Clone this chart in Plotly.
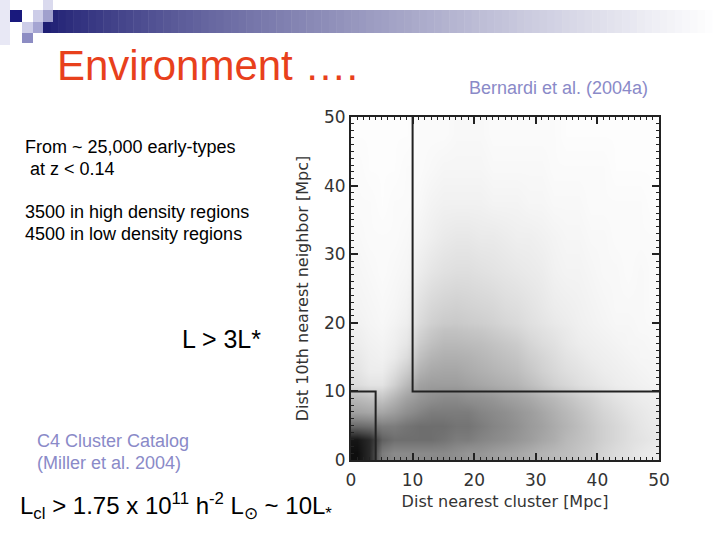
import plotly.graph_objects as go

# ---------------- data ----------------
# Bin edges (Mpc) for the density of early-type galaxies
x_edges = [0, 2, 4, 6, 8, 10, 12, 14, 16, 18, 20, 22, 24, 26, 28, 30, 32, 34, 36, 38, 40, 42, 44, 46, 48, 50]
y_edges = [0, 2, 4, 6, 8, 10, 12, 14, 16, 18, 20, 25, 30, 35, 40, 45, 50]

# Relative point density (0 = empty, 1 = saturated), one row per y bin (bottom to top)
dens_y00_02 = [0.95, 0.85, 0.55, 0.50, 0.50, 0.50, 0.50, 0.50, 0.48, 0.45, 0.45, 0.42, 0.40, 0.38, 0.35, 0.32, 0.30, 0.28, 0.25, 0.22, 0.18, 0.15, 0.13, 0.10, 0.08]
dens_y02_04 = [0.92, 0.85, 0.65, 0.60, 0.60, 0.60, 0.60, 0.58, 0.55, 0.55, 0.52, 0.50, 0.48, 0.45, 0.42, 0.38, 0.35, 0.30, 0.27, 0.24, 0.20, 0.17, 0.14, 0.12, 0.10]
dens_y04_06 = [0.62, 0.60, 0.55, 0.55, 0.58, 0.60, 0.60, 0.60, 0.58, 0.58, 0.55, 0.52, 0.50, 0.47, 0.43, 0.40, 0.36, 0.32, 0.28, 0.24, 0.20, 0.17, 0.14, 0.11, 0.09]
dens_y06_08 = [0.40, 0.38, 0.38, 0.42, 0.48, 0.52, 0.55, 0.55, 0.55, 0.55, 0.52, 0.50, 0.48, 0.45, 0.42, 0.38, 0.34, 0.30, 0.26, 0.22, 0.18, 0.15, 0.12, 0.10, 0.08]
dens_y08_10 = [0.30, 0.27, 0.25, 0.32, 0.40, 0.45, 0.48, 0.50, 0.50, 0.48, 0.47, 0.45, 0.42, 0.40, 0.37, 0.33, 0.30, 0.26, 0.22, 0.19, 0.15, 0.12, 0.10, 0.08, 0.07]
dens_y10_12 = [0.15, 0.12, 0.12, 0.20, 0.30, 0.40, 0.42, 0.42, 0.42, 0.40, 0.38, 0.36, 0.34, 0.32, 0.28, 0.24, 0.20, 0.17, 0.14, 0.12, 0.10, 0.08, 0.07, 0.06, 0.05]
dens_y12_14 = [0.12, 0.08, 0.08, 0.14, 0.22, 0.33, 0.37, 0.38, 0.38, 0.36, 0.34, 0.32, 0.30, 0.28, 0.24, 0.20, 0.17, 0.14, 0.12, 0.10, 0.08, 0.07, 0.06, 0.05, 0.04]
dens_y14_16 = [0.10, 0.07, 0.06, 0.09, 0.15, 0.27, 0.32, 0.34, 0.34, 0.33, 0.31, 0.29, 0.27, 0.25, 0.21, 0.18, 0.15, 0.12, 0.10, 0.08, 0.07, 0.06, 0.05, 0.04, 0.04]
dens_y16_18 = [0.08, 0.06, 0.05, 0.07, 0.11, 0.22, 0.27, 0.30, 0.30, 0.29, 0.28, 0.26, 0.24, 0.22, 0.18, 0.15, 0.13, 0.10, 0.08, 0.07, 0.06, 0.05, 0.04, 0.04, 0.03]
dens_y18_20 = [0.07, 0.05, 0.04, 0.06, 0.09, 0.18, 0.23, 0.26, 0.26, 0.25, 0.24, 0.22, 0.20, 0.18, 0.15, 0.13, 0.11, 0.09, 0.07, 0.06, 0.05, 0.04, 0.04, 0.03, 0.03]
dens_y20_25 = [0.05, 0.04, 0.03, 0.04, 0.06, 0.13, 0.17, 0.19, 0.20, 0.19, 0.18, 0.17, 0.15, 0.14, 0.12, 0.10, 0.08, 0.07, 0.06, 0.05, 0.04, 0.03, 0.03, 0.03, 0.02]
dens_y25_30 = [0.04, 0.03, 0.02, 0.03, 0.04, 0.08, 0.11, 0.13, 0.14, 0.14, 0.13, 0.12, 0.11, 0.10, 0.09, 0.08, 0.06, 0.05, 0.05, 0.04, 0.03, 0.03, 0.02, 0.03, 0.02]
dens_y30_35 = [0.03, 0.02, 0.02, 0.02, 0.03, 0.05, 0.07, 0.09, 0.10, 0.10, 0.09, 0.09, 0.08, 0.07, 0.07, 0.06, 0.05, 0.04, 0.04, 0.03, 0.03, 0.02, 0.02, 0.02, 0.02]
dens_y35_40 = [0.02, 0.02, 0.01, 0.02, 0.02, 0.03, 0.05, 0.06, 0.06, 0.06, 0.06, 0.05, 0.05, 0.05, 0.04, 0.04, 0.03, 0.03, 0.03, 0.02, 0.02, 0.02, 0.02, 0.02, 0.01]
dens_y40_45 = [0.02, 0.01, 0.01, 0.01, 0.02, 0.02, 0.03, 0.04, 0.04, 0.04, 0.04, 0.03, 0.03, 0.03, 0.03, 0.03, 0.02, 0.02, 0.02, 0.02, 0.02, 0.01, 0.01, 0.01, 0.01]
dens_y45_50 = [0.01, 0.01, 0.01, 0.01, 0.01, 0.02, 0.02, 0.02, 0.03, 0.03, 0.03, 0.02, 0.02, 0.02, 0.02, 0.02, 0.02, 0.01, 0.01, 0.01, 0.01, 0.01, 0.01, 0.01, 0.01]

density_rows = [dens_y00_02, dens_y02_04, dens_y04_06, dens_y06_08, dens_y08_10,
                dens_y10_12, dens_y12_14, dens_y14_16, dens_y16_18, dens_y18_20,
                dens_y20_25, dens_y25_30, dens_y30_35, dens_y35_40, dens_y40_45, dens_y45_50]

# Region thresholds (Mpc)
high_cluster_max = 4      # high density: nearest cluster < 4 Mpc
high_neighbor_max = 10    #               10th neighbour < 10 Mpc
low_cluster_min = 10      # low density: nearest cluster > 10 Mpc
low_neighbor_min = 10     #              10th neighbour > 10 Mpc
axis_max = 50
tick_vals = [0, 10, 20, 30, 40, 50]

# ---------------- figure ----------------
W, H = 720, 540
L, R, T, B = 351, 61, 117, 80
pw, ph = W - L - R, H - T - B


def px(x):
    return (x - L) / pw


def py(y):
    return (H - B - y) / ph


fig = go.Figure()

fig.add_trace(go.Heatmap(
    z=density_rows, x=x_edges, y=y_edges,
    colorscale=[[0, "white"], [0.5, "#8a8a8a"], [1, "black"]],
    zmin=0, zmax=1, showscale=False, zsmooth="best", hoverinfo="skip"))

line_style = dict(color="#222222", width=2)
fig.add_trace(go.Scatter(
    x=[0, high_cluster_max, high_cluster_max],
    y=[high_neighbor_max, high_neighbor_max, 0],
    mode="lines", line=line_style, showlegend=False, hoverinfo="skip"))
fig.add_trace(go.Scatter(
    x=[low_cluster_min, low_cluster_min, axis_max],
    y=[axis_max, low_neighbor_min, low_neighbor_min],
    mode="lines", line=line_style, showlegend=False, hoverinfo="skip"))

axis_font = dict(family="DejaVu Sans", size=17, color="#333333")
title_font = dict(family="DejaVu Sans", size=16, color="#333333")
common_axis = dict(
    range=[0, axis_max], tickvals=tick_vals, ticks="inside", ticklen=7, tickwidth=1.5,
    tickcolor="#222222", showline=True, linewidth=2, linecolor="#222222",
    mirror="allticks", showgrid=False, zeroline=False, tickfont=axis_font,
    minor=dict(ticks="inside", dtick=1, ticklen=3, tickwidth=1, tickcolor="#222222", showgrid=False),
)
fig.update_xaxes(**common_axis, ticklabelstandoff=4,
                 title=dict(text="Dist nearest cluster [Mpc]", font=title_font, standoff=6))
fig.update_yaxes(**common_axis,
                 title=dict(text="Dist 10th nearest neighbor [Mpc]", font=title_font, standoff=11))

# ---------------- slide decoration ----------------
shapes = []


def rect(x0, y0, x1, y1, color):
    shapes.append(dict(type="rect", xref="paper", yref="paper",
                       x0=px(x0), x1=px(x1), y0=py(y1), y1=py(y0),
                       line=dict(width=0), fillcolor=color, layer="above"))


# gradient bar
n = 90
x_start, x_end = 43, 720
c0 = (30, 30, 115)
c1 = (255, 255, 255)
for i in range(n):
    t = i / (n - 1)
    tt = t ** 0.8
    col = tuple(int(round(c0[k] + (c1[k] - c0[k]) * tt)) for k in range(3))
    xa = x_start + (x_end - x_start) * i / n
    xb = x_start + (x_end - x_start) * (i + 1) / n + 0.5
    rect(xa, 10, xb, 33, "rgb(%d,%d,%d)" % col)

rect(0, 0, 10, 45, "rgb(232,232,245)")
rect(10, 10, 22, 22, "rgb(25,25,125)")
rect(33, 10, 43, 22, "rgb(205,205,232)")
rect(43, 0, 53, 10, "rgb(218,218,238)")
rect(43, 10, 53, 22, "rgb(160,160,205)")
rect(22, 22, 33, 33, "rgb(205,205,232)")
rect(33, 22, 43, 33, "rgb(165,165,210)")
rect(22, 33, 33, 43, "rgb(140,140,195)")

# ---------------- slide text ----------------
ann = []
sans = "Liberation Sans, Arial, sans-serif"


def text(x, y, s, size, color="black", anchor="left"):
    ann.append(dict(x=px(x), y=py(y), xref="paper", yref="paper", text=s,
                    showarrow=False, xanchor=anchor, yanchor="middle",
                    font=dict(family=sans, size=size, color=color)))


text(55, 65, "Environment ….", 42, "#E8401C")
text(467, 88, "Bernardi et al. (2004a)", 18, "#8A8AC8")
text(23, 147, "From ~ 25,000 early-types", 18)
text(28, 169, "at z &lt; 0.14", 18)
text(23, 212, "3500 in high density regions", 18)
text(23, 234, "4500 in low density regions", 18)
text(180, 339, "L &gt; 3L*", 25)
text(35, 441, "C4 Cluster Catalog", 18, "#8A8AC8")
text(35, 463, "(Miller et al. 2004)", 18, "#8A8AC8")
text(18, 506, "L<sub>cl</sub> &gt; 1.75 x 10<sup>11</sup> h<sup>-2</sup> L<sub>⊙</sub> ~ 10L<sub>*</sub>", 24)

fig.update_layout(
    width=W, height=H, margin=dict(l=L, r=R, t=T, b=B, autoexpand=False),
    paper_bgcolor="white", plot_bgcolor="white",
    shapes=shapes, annotations=ann, showlegend=False,
)

fig.write_html("out.html", config={"displayModeBar": False},
               post_script="document.body.style.margin='0';")
